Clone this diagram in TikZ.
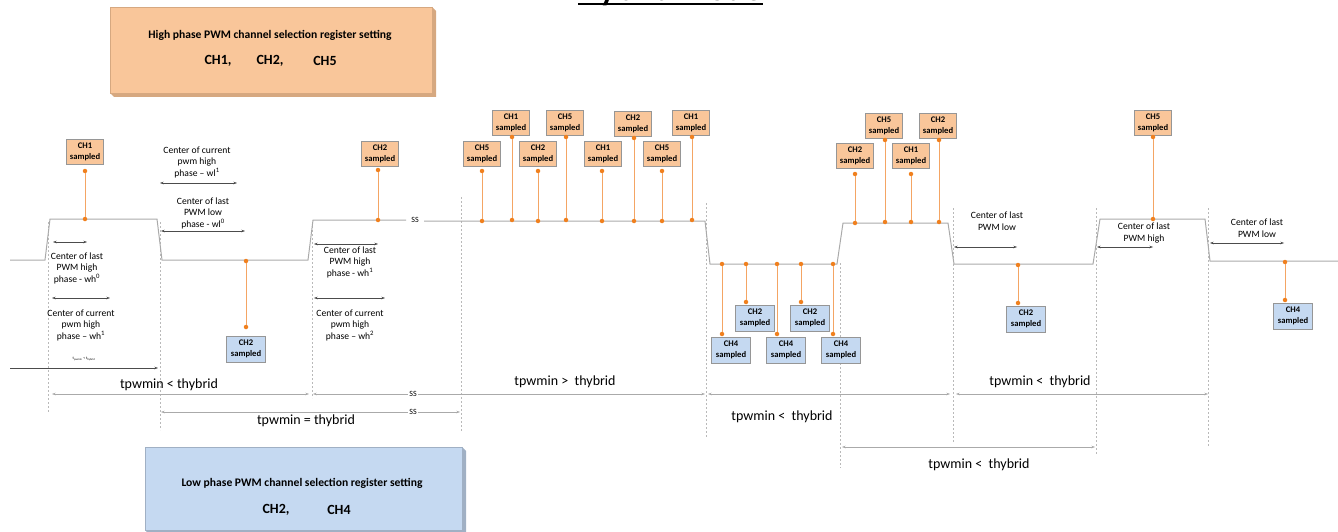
\documentclass[tikz,border=0pt]{standalone}
\usepackage{fontspec}
\setmainfont{Carlito}
\usetikzlibrary{arrows.meta}
\definecolor{hiorange}{RGB}{249,198,154}
\definecolor{hiside}{RGB}{214,168,128}
\definecolor{loblue}{RGB}{197,217,241}
\definecolor{loside}{RGB}{160,176,196}
\definecolor{dotorange}{RGB}{240,128,30}
\definecolor{stemorange}{RGB}{244,165,100}
\definecolor{wavegray}{RGB}{170,170,170}
\definecolor{sepgray}{RGB}{185,185,185}
\definecolor{boxgray}{RGB}{150,150,150}
\tikzset{
  hibox/.style={draw=boxgray,fill=hiorange,align=center,font=\bfseries\fontsize{8.6}{10.5}\selectfont,minimum width=37pt,minimum height=25pt,inner sep=1pt},
  lobox/.style={hibox,fill=loblue,minimum width=39pt,minimum height=26pt},
  sdot/.style={circle,fill=dotorange,inner sep=0pt,minimum size=4.5pt},
  stem/.style={draw=stemorange,line width=0.8pt},
  wave/.style={draw=wavegray,line width=1pt},
  vsep/.style={draw=sepgray,dash pattern=on 2pt off 2pt,line width=0.6pt},
  dimarrow/.style={draw=black!70,line width=0.5pt,{Stealth[length=3.5pt,width=2.5pt]}-{Stealth[length=3.5pt,width=2.5pt]}},
  gdim/.style={dimarrow,draw=wavegray},
  notetext/.style={align=center,font=\fontsize{9.6}{11.5}\selectfont,inner sep=0pt},
  cmptext/.style={font=\fontsize{14}{16}\selectfont,inner sep=0pt},
  sstext/.style={font=\fontsize{8}{9}\selectfont,fill=white,inner sep=1pt},
  regtext/.style={font=\bfseries\fontsize{11.6}{13}\selectfont},
  regch/.style={font=\bfseries\fontsize{14}{16}\selectfont},
}
\begin{document}
\begin{tikzpicture}[x=1pt,y=-1pt]
\useasboundingbox (0,0) rectangle (1338,532);
\clip (0,0) rectangle (1338,532);

% title
\node[font=\bfseries\fontsize{34}{40}\selectfont,anchor=base,inner sep=0pt] (title) at (670,1) {Hybrid mode};
\draw[line width=2pt] (title.base west) ++(0,3.5) -- ++(185,0);

% register boxes
\fill[hiside] (432,7) -- (436,11) -- (436,97) -- (114,97) -- (110,93) -- (432,93) -- cycle;
\node[draw=hiside,fill=hiorange,minimum width=322pt,minimum height=86pt,inner sep=0pt] (hireg) at (271,50) {};
\node[regtext] (hititle) at (270,35) {High phase PWM channel selection register setting};
\node[regch] (hich1) at (218,61) {CH1,};
\node[regch] (hich2) at (270,61) {CH2,};
\node[regch] (hich5) at (325,61) {CH5};

\fill[loside] (462,447) -- (466,451) -- (466,534) -- (149,534) -- (145,530) -- (462,530) -- cycle;
\node[draw=loside,fill=loblue,minimum width=317pt,minimum height=83pt,inner sep=0pt] (loreg) at (303.5,488.5) {};
\node[regtext] (lotitle) at (302,483) {Low phase PWM channel selection register setting};
\node[regch] (loch2) at (276,510) {CH2,};
\node[regch] (loch4) at (339,510) {CH4};

% dashed separators
\draw[vsep] (48,222) -- (48,412);
\draw[vsep] (160,222) -- (160,430);
\draw[vsep] (312,222) -- (312,398);
\draw[vsep] (461,197) -- (461,432);
\draw[vsep] (706,203) -- (706,438);
\draw[vsep] (840,263) -- (840,468);
\draw[vsep] (953,208) -- (953,443);
\draw[vsep] (1096,208) -- (1096,455);
\draw[vsep] (1208,208) -- (1208,447);

% pwm waveform
\draw[wave] (10,260) -- (45,260) -- (50,219) -- (157,219) -- (162,260) -- (308,260) -- (313,220) -- (406,220);
\node[sstext] (ss0) at (415,220) {SS};
\draw[wave] (424,221) -- (705,221) -- (710,264) -- (837,264) -- (843,223) -- (948,223) -- (954,264) -- (1093,264) -- (1100,219) -- (1205,219) -- (1210,261) -- (1338,261);

% high phase samples
\node[hibox] (h1) at (85,152) {CH1\\sampled};
\node[sdot] (h1t) at (85,171) {};
\node[sdot] (h1b) at (85,219) {};
\draw[stem] (h1t) -- (h1b);
\node[hibox] (h2) at (380,154) {CH2\\sampled};
\node[sdot] (h2t) at (378,170) {};
\node[sdot] (h2b) at (378,220) {};
\draw[stem] (h2t) -- (h2b);
\node[hibox] (h3) at (482,154) {CH5\\sampled};
\node[sdot] (h3t) at (482,171) {};
\node[sdot] (h3b) at (482,221) {};
\draw[stem] (h3t) -- (h3b);
\node[hibox] (h4) at (511,123) {CH1\\sampled};
\node[sdot] (h4t) at (512,137) {};
\node[sdot] (h4b) at (512,220) {};
\draw[stem] (h4t) -- (h4b);
\node[hibox] (h5) at (538,154) {CH2\\sampled};
\node[sdot] (h5t) at (538,171) {};
\node[sdot] (h5b) at (538,221) {};
\draw[stem] (h5t) -- (h5b);
\node[hibox] (h6) at (565,123) {CH5\\sampled};
\node[sdot] (h6t) at (566,137) {};
\node[sdot] (h6b) at (566,220) {};
\draw[stem] (h6t) -- (h6b);
\node[hibox] (h7) at (603,154) {CH1\\sampled};
\node[sdot] (h7t) at (602,171) {};
\node[sdot] (h7b) at (602,221) {};
\draw[stem] (h7t) -- (h7b);
\node[hibox] (h8) at (633,124) {CH2\\sampled};
\node[sdot] (h8t) at (634,138) {};
\node[sdot] (h8b) at (634,221) {};
\draw[stem] (h8t) -- (h8b);
\node[hibox] (h9) at (662,154) {CH5\\sampled};
\node[sdot] (h9t) at (662,171) {};
\node[sdot] (h9b) at (662,221) {};
\draw[stem] (h9t) -- (h9b);
\node[hibox] (h10) at (691,123) {CH1\\sampled};
\node[sdot] (h10t) at (692,137) {};
\node[sdot] (h10b) at (692,220) {};
\draw[stem] (h10t) -- (h10b);
\node[hibox] (h11) at (855,156) {CH2\\sampled};
\node[sdot] (h11t) at (855,174) {};
\node[sdot] (h11b) at (855,223) {};
\draw[stem] (h11t) -- (h11b);
\node[hibox] (h12) at (884,126) {CH5\\sampled};
\node[sdot] (h12t) at (885,140) {};
\node[sdot] (h12b) at (885,222) {};
\draw[stem] (h12t) -- (h12b);
\node[hibox] (h13) at (911,156) {CH1\\sampled};
\node[sdot] (h13t) at (911,174) {};
\node[sdot] (h13b) at (911,222) {};
\draw[stem] (h13t) -- (h13b);
\node[hibox] (h14) at (938,126) {CH2\\sampled};
\node[sdot] (h14t) at (939,140) {};
\node[sdot] (h14b) at (939,222) {};
\draw[stem] (h14t) -- (h14b);
\node[hibox] (h15) at (1153,123) {CH5\\sampled};
\node[sdot] (h15t) at (1153,137) {};
\node[sdot] (h15b) at (1153,219) {};
\draw[stem] (h15t) -- (h15b);

% low phase samples
\node[lobox] (l1) at (246,349) {CH2\\sampled};
\node[sdot] (l1t) at (246,261) {};
\node[sdot] (l1b) at (246,327) {};
\draw[stem] (l1t) -- (l1b);
\node[lobox] (l2) at (731,350) {CH4\\sampled};
\node[sdot] (l2t) at (722,264) {};
\node[sdot] (l2b) at (722,334) {};
\draw[stem] (l2t) -- (l2b);
\node[lobox] (l3) at (755,318) {CH2\\sampled};
\node[sdot] (l3t) at (746,264) {};
\node[sdot] (l3b) at (746,302) {};
\draw[stem] (l3t) -- (l3b);
\node[lobox] (l4) at (786,350) {CH4\\sampled};
\node[sdot] (l4t) at (777,264) {};
\node[sdot] (l4b) at (777,334) {};
\draw[stem] (l4t) -- (l4b);
\node[lobox] (l5) at (810,318) {CH2\\sampled};
\node[sdot] (l5t) at (801,264) {};
\node[sdot] (l5b) at (801,302) {};
\draw[stem] (l5t) -- (l5b);
\node[lobox] (l6) at (841,350) {CH4\\sampled};
\node[sdot] (l6t) at (833,264) {};
\node[sdot] (l6b) at (833,334) {};
\draw[stem] (l6t) -- (l6b);
\node[lobox] (l7) at (1026,319) {CH2\\sampled};
\node[sdot] (l7t) at (1018,265) {};
\node[sdot] (l7b) at (1018,303) {};
\draw[stem] (l7t) -- (l7b);
\node[lobox] (l8) at (1293,316) {CH4\\sampled};
\node[sdot] (l8t) at (1285,262) {};
\node[sdot] (l8b) at (1285,300) {};
\draw[stem] (l8t) -- (l8b);

% center annotations
\coordinate (a1l) at (53,242);
\coordinate (a1r) at (87,242);
\draw[dimarrow] (a1l) -- (a1r);
\node[notetext] (wh0) at (77,268) {Center of last\\PWM high\\phase - wh\textsuperscript{0}};
\coordinate (a2l) at (52,298);
\coordinate (a2r) at (110,298);
\draw[dimarrow] (a2l) -- (a2r);
\node[notetext] (wh1) at (81,325) {Center of current\\pwm high\\phase -- wh\textsuperscript{1}};
\coordinate (a3l) at (160,183);
\coordinate (a3r) at (237,183);
\draw[dimarrow] (a3l) -- (a3r);
\node[notetext] (wl1) at (197,162) {Center of current\\pwm high\\phase -- wl\textsuperscript{1}};
\coordinate (a4l) at (161,231);
\coordinate (a4r) at (245,231);
\draw[dimarrow] (a4l) -- (a4r);
\node[notetext] (wl0) at (203,213) {Center of last\\PWM low\\phase - wl\textsuperscript{0}};
\coordinate (a5l) at (314,244);
\coordinate (a5r) at (378,244);
\draw[dimarrow] (a5l) -- (a5r);
\node[notetext] (wh1b) at (350,262) {Center of last\\PWM high\\phase - wh\textsuperscript{1}};
\coordinate (a6l) at (314,298);
\coordinate (a6r) at (385,298);
\draw[dimarrow] (a6l) -- (a6r);
\node[notetext] (wh2) at (350,325) {Center of current\\pwm high\\phase -- wh\textsuperscript{2}};
\coordinate (a7l) at (954,247);
\coordinate (a7r) at (1017,247);
\draw[dimarrow] (a7l) -- (a7r);
\node[notetext] (lastlow1) at (997,221) {Center of last\\PWM low};
\coordinate (a8l) at (1097,247);
\coordinate (a8r) at (1153,247);
\draw[dimarrow] (a8l) -- (a8r);
\node[notetext] (lasthigh) at (1144,233) {Center of last\\PWM high};
\coordinate (a9l) at (1210,243);
\coordinate (a9r) at (1284,243);
\draw[dimarrow] (a9l) -- (a9r);
\node[notetext] (lastlow2) at (1257,228) {Center of last\\PWM low};

% period comparisons
\coordinate (p0l) at (10,368);
\coordinate (p0r) at (158,368);
\draw[draw=black!70,line width=0.5pt,-{Stealth[length=3.5pt,width=2.5pt]}] (p0l) -- (p0r);
\node[font=\fontsize{4}{5}\selectfont] (p0t) at (84,359) {t\textsubscript{pwmin} < t\textsubscript{hybrid}};
\coordinate (p1l) at (52,394);
\coordinate (p1r) at (309,394);
\draw[gdim] (p1l) -- (p1r);
\node[cmptext] (p1t) at (169,385) {tpwmin < thybrid};
\coordinate (p2l) at (313,394);
\coordinate (p2r) at (705,394);
\draw[gdim] (p2l) -- (p2r);
\node[sstext] (ss1) at (413,394) {SS};
\node[cmptext] (p2t) at (565,382) {tpwmin >~ thybrid};
\coordinate (p3l) at (708,394);
\coordinate (p3r) at (950,394);
\draw[gdim] (p3l) -- (p3r);
\node[cmptext] (p3t) at (782,417) {tpwmin <~ thybrid};
\coordinate (p4l) at (956,394);
\coordinate (p4r) at (1208,394);
\draw[gdim] (p4l) -- (p4r);
\node[cmptext] (p4t) at (1040,382) {tpwmin <~ thybrid};
\coordinate (p5l) at (161,412);
\coordinate (p5r) at (460,412);
\draw[gdim] (p5l) -- (p5r);
\node[sstext] (ss2) at (413,412) {SS};
\node[cmptext] (p5t) at (306,421) {tpwmin = thybrid};
\coordinate (p6l) at (842,447);
\coordinate (p6r) at (1095,447);
\draw[gdim] (p6l) -- (p6r);
\node[cmptext] (p6t) at (979,465) {tpwmin <~ thybrid};
\end{tikzpicture}
\end{document}
